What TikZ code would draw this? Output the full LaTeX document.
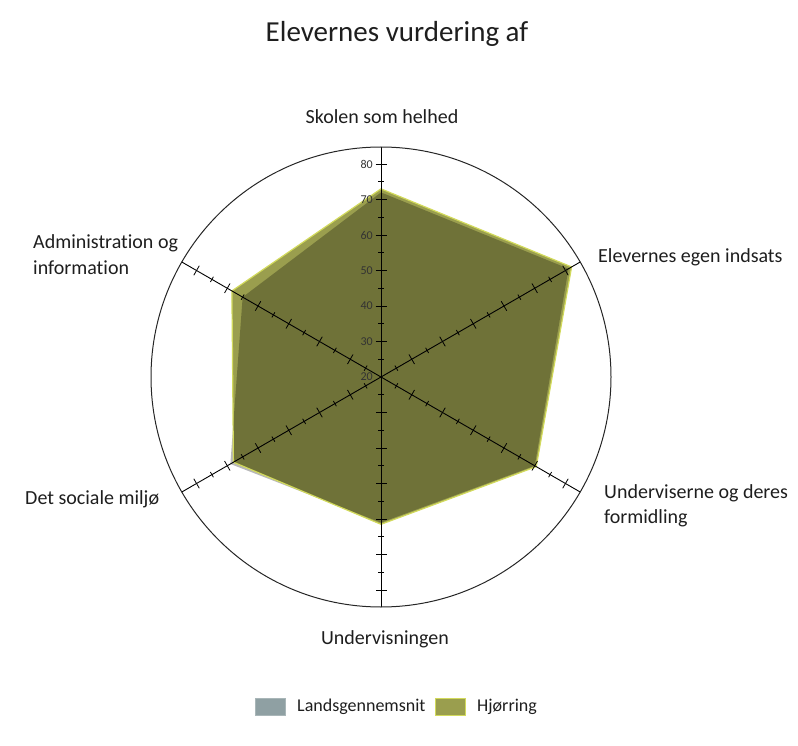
\documentclass[tikz,border=0pt]{standalone}
\usepackage{fontspec}
\setmainfont{Carlito}[Ligatures=NoCommon]
\usetikzlibrary{calc}
\definecolor{txt}{HTML}{1E1E1E}
\definecolor{hjfill}{HTML}{9A9E4E}
\definecolor{hjedge}{HTML}{D2DA5C}
\definecolor{lgfill}{HTML}{8FA0A3}
\definecolor{lgedge}{HTML}{A9B6B8}
\tikzset{
  lbl/.style={font=\fontsize{20}{25}\selectfont, text=txt, inner sep=0pt},
  ticklbl/.style={font=\fontsize{12}{14}\selectfont, text=black!80, inner sep=0pt, anchor=east},
  axisline/.style={draw=black, line width=0.9pt},
  tickline/.style={draw=black, line width=0.8pt},
  legbox/.style={minimum width=30pt, minimum height=17pt, inner sep=0pt, line width=1pt},
  legtxt/.style={font=\fontsize{18}{21}\selectfont, text=txt, anchor=west, inner sep=0pt},
}
\begin{document}
\begin{tikzpicture}[x=1pt,y=1pt]
\useasboundingbox (0,-746) rectangle (798,0);
\coordinate (O) at (381,-377);
\def\s{3.55}
% title
\node[font=\fontsize{29}{33}\selectfont, text=txt, anchor=base] (title) at (397,-42) {Elevernes vurdering af};
% Hjorring fill
\fill[hjfill] ($(O)+(90:{(73-20)*\s})$) -- ($(O)+(30:{(82-20)*\s})$) -- ($(O)+(-30:{(70.5-20)*\s})$) -- ($(O)+(-90:{(61.5-20)*\s})$) -- ($(O)+(210:{(68-20)*\s})$) -- ($(O)+(150:{(68.5-20)*\s})$) -- cycle;
% Landsgennemsnit overlay
\fill[black, fill opacity=0.28] ($(O)+(90:{(72-20)*\s})$) -- ($(O)+(30:{(81-20)*\s})$) -- ($(O)+(-30:{(70-20)*\s})$) -- ($(O)+(-90:{(61-20)*\s})$) -- ($(O)+(210:{(69-20)*\s})$) -- ($(O)+(150:{(65-20)*\s})$) -- cycle;
% Hjorring edge
\draw[hjedge, line width=1.2pt, line join=round] ($(O)+(90:{(73-20)*\s})$) -- ($(O)+(30:{(82-20)*\s})$) -- ($(O)+(-30:{(70.5-20)*\s})$) -- ($(O)+(-90:{(61.5-20)*\s})$) -- ($(O)+(210:{(68-20)*\s})$) -- ($(O)+(150:{(68.5-20)*\s})$) -- cycle;
% axes
\foreach \a in {90,30,-30,-90,210,150}{
  \draw[axisline] (O) -- ($(O)+(\a:230)$);
  \foreach \v in {25,30,...,80}{
    \pgfmathsetmacro{\r}{(\v-20)*\s}
    \pgfmathsetmacro{\h}{mod(\v,10)==0 ? 5.5 : 3}
    \draw[tickline] ($(O)+(\a:\r)+(\a+90:\h)$) -- ($(O)+(\a:\r)+(\a-90:\h)$);
  }
}
% tick labels
\foreach \v in {20,30,...,80}{
  \node[ticklbl] (t\v) at ($(O)+(90:{(\v-20)*\s})+(-8,0)$) {\v};
}
% circle
\draw[black!85, line width=1pt] (O) circle (230);
% axis labels
\node[lbl, anchor=base] (a1) at (382,-124) {Skolen som helhed};
\node[lbl, anchor=base west] (a2) at (598,-262) {Elevernes egen indsats};
\node[lbl, anchor=base west, align=left] (a3) at (604,-523) {Underviserne og deres\\formidling};
\node[lbl, anchor=base] (a4) at (385,-644) {Undervisningen};
\node[lbl, anchor=base west] (a5) at (25,-504) {Det sociale miljø};
\node[lbl, anchor=base west, align=left] (a6) at (33,-274) {Administration og\\information};
% legend
\node[legbox, fill=lgfill, draw=lgedge] (k1) at (270,-707) {};
\node[legtxt] (l1) at (297,-707) {Landsgennemsnit};
\node[legbox, fill=hjfill, draw=hjedge] (k2) at (450,-707) {};
\node[legtxt] (l2) at (477,-707) {Hjørring};
\end{tikzpicture}
\end{document}
